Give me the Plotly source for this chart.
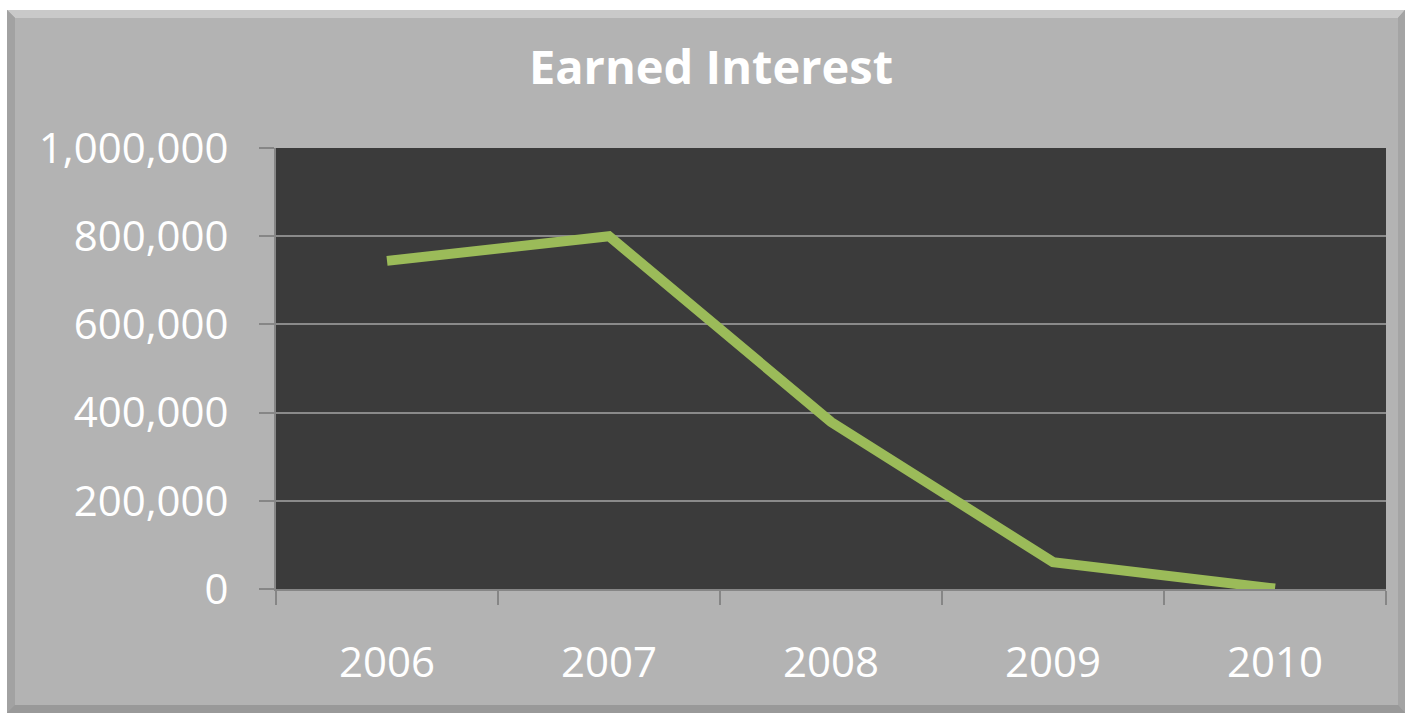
import plotly.graph_objects as go

years = ["2006", "2007", "2008", "2009", "2010"]
interest = [744000, 800000, 379000, 61000, 1000]
y_ticks = [0, 200000, 400000, 600000, 800000, 1000000]
y_tick_labels = ["0", "200,000", "400,000", "600,000", "800,000", "1,000,000"]

W, H = 1406, 717
L, R, T, B = 276, 20, 148, 128
pw, ph = W - L - R, H - T - B


def px_x(p):
    return (p - L) / pw


def px_y(p):
    return (H - B - p) / ph


def rect(x0, y0, x1, y1, color):
    return dict(type="rect", xref="paper", yref="paper", layer="below",
                x0=px_x(x0), x1=px_x(x1), y0=px_y(y1), y1=px_y(y0),
                fillcolor=color, line=dict(width=0))


def poly(points, color):
    d = "M " + " L ".join(f"{px_x(a)},{px_y(b)}" for a, b in points) + " Z"
    return dict(type="path", xref="paper", yref="paper", layer="below",
                path=d, fillcolor=color, line=dict(width=0))


fig = go.Figure()
fig.add_trace(go.Scatter(
    x=years, y=interest, mode="lines",
    line=dict(color="#9bbb59", width=10),
    hoverinfo="x+y", showlegend=False,
))

fo, fi = (7, 10, 1405, 713), (15, 18, 1398, 705)
shapes = [
    rect(*fo, "#9d9d9d"),
    poly([(fo[0], fo[1]), (fo[2], fo[1]), (fi[2], fi[1]), (fi[0], fi[1])], "#c9c9c9"),
    poly([(fo[0], fo[1]), (fi[0], fi[1]), (fi[0], fi[3]), (fo[0], fo[3])], "#a2a2a2"),
    poly([(fo[2], fo[1]), (fi[2], fi[1]), (fi[2], fi[3]), (fo[2], fo[3])], "#a4a4a4"),
    poly([(fo[0], fo[3]), (fi[0], fi[3]), (fi[2], fi[3]), (fo[2], fo[3])], "#999999"),
    rect(*fi, "#b3b3b3"),
    # plot area background
    dict(type="rect", xref="paper", yref="paper", layer="below",
         x0=0, x1=1, y0=0, y1=1, fillcolor="#3b3b3b", line=dict(width=0)),
]

fig.update_layout(
    width=W, height=H,
    margin=dict(l=L, r=R, t=T, b=B),
    paper_bgcolor="white",
    plot_bgcolor="#3b3b3b",
    shapes=shapes,
    title=dict(text="<b>Earned Interest</b>", x=711 / W, xanchor="center",
               y=1 - 68 / H, yanchor="middle",
               font=dict(family="Open Sans", size=47, color="white")),
    xaxis=dict(
        type="category", range=[-0.5, 4.5],
        tickson="boundaries", ticks="outside", ticklen=14, tickwidth=2,
        tickcolor="#868686", showline=True, linecolor="#868686", linewidth=2,
        showgrid=False, ticklabelstandoff=36,
        tickfont=dict(family="Open Sans", size=42, color="white"),
        fixedrange=True,
    ),
    yaxis=dict(
        range=[0, 1000000], tickvals=y_ticks, ticktext=y_tick_labels,
        ticks="outside", ticklen=15, tickwidth=2, tickcolor="#868686",
        showline=True, linecolor="#868686", linewidth=2,
        showgrid=True, gridcolor="#8a8a8a", gridwidth=2,
        zeroline=False, ticklabelstandoff=22,
        tickfont=dict(family="Open Sans", size=42, color="white"),
        fixedrange=True,
    ),
)

fig.write_html("out.html", config={"displayModeBar": False},
               post_script="document.body.style.margin='0';")
